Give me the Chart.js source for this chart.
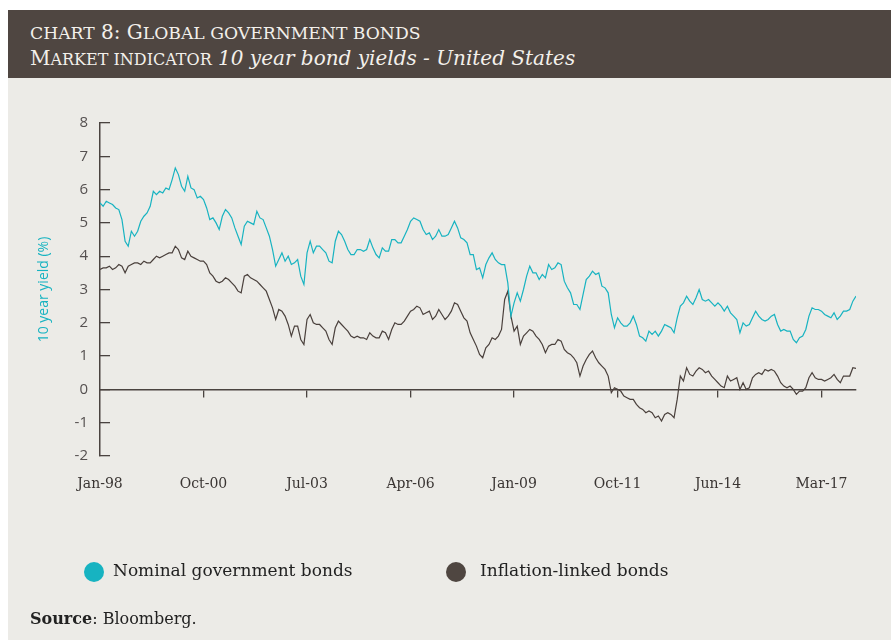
<!DOCTYPE html>
<html>
<head>
<meta charset="utf-8">
<script src="https://cdn.jsdelivr.net/npm/chart.js@4.4.0/dist/chart.umd.min.js"></script>
<style>
  html, body { margin: 0; padding: 0; background: #ffffff; }
  body { width: 891px; height: 640px; position: relative; overflow: hidden; }
  #panel { position: absolute; left: 8px; top: 10px; width: 883px; height: 630px; background: #ecebe7; }
  #header { position: absolute; left: 8px; top: 10px; width: 883px; height: 68px; background: #4f4641; color: #f3f0eb;
            font-family: "DejaVu Serif", serif; font-size: 20px; line-height: 26px; }
  #header .l1 { position: absolute; left: 22px; top: 9px; white-space: nowrap; }
  #header .l2 { position: absolute; left: 22px; top: 35px; white-space: nowrap; }
  #header .sc { text-transform: uppercase; font-size: 0.8em; }
  #header .l1 .sc { font-size: 0.86em; }
  #chart { position: absolute; left: 0; top: 0; }
  .legend { position: absolute; top: 560px; font-family: "DejaVu Serif", serif; font-size: 17px; color: #222; white-space: nowrap; }
  .legend span.dot { position: absolute; top: 2px; width: 20px; height: 20px; border-radius: 50%; }
  #source { position: absolute; left: 30px; top: 609px; font-family: "DejaVu Serif", serif; font-size: 16px; color: #222; }
</style>
</head>
<body>
<div id="panel"></div>
<div id="header">
  <div class="l1"><span class="sc">chart</span> 8: G<span class="sc">lobal government bonds</span></div>
  <div class="l2">M<span class="sc">arket indicator</span> <i>10 year bond yields - United States</i></div>
</div>
<canvas id="chart" width="891" height="640"></canvas>
<div class="legend" style="left:84px;"><span class="dot" style="left:0;background:#17b3c1;"></span><span style="padding-left:29px;">Nominal government bonds</span></div>
<div class="legend" style="left:446px;"><span class="dot" style="left:0;background:#4f4641;"></span><span style="padding-left:34px;">Inflation-linked bonds</span></div>
<div id="source"><b>Source</b>: Bloomberg.</div>
<script>
// mesi da gennaio 1998 (0 = Jan-98)
const tickMonths = [0, 33, 66, 99, 132, 165, 197, 230];
const tickLabels = ['Jan-98', 'Oct-00', 'Jul-03', 'Apr-06', 'Jan-09', 'Oct-11', 'Jun-14', 'Mar-17'];
const yTicks = [-2, -1, 0, 1, 2, 3, 4, 5, 6, 7, 8];

// rendimento nominale 10 anni, mensile
const nominal = [
  5.60, 5.50, 5.65, 5.60, 5.55, 5.45, 5.40, 5.10, 4.45, 4.30, 4.75, 4.60,
  4.75, 5.05, 5.20, 5.30, 5.50, 5.95, 5.85, 5.95, 5.90, 6.05, 6.00, 6.30,
  6.65, 6.45, 6.10, 5.95, 6.40, 6.05, 6.00, 5.75, 5.80, 5.70, 5.45, 5.10,
  5.15, 5.00, 4.80, 5.20, 5.40, 5.30, 5.15, 4.85, 4.60, 4.35, 4.90, 5.05,
  5.00, 4.95, 5.35, 5.15, 5.10, 4.85, 4.60, 4.20, 3.70, 3.90, 4.10, 3.85,
  4.00, 3.75, 3.80, 3.90, 3.40, 3.15, 4.10, 4.45, 4.10, 4.30, 4.30, 4.20,
  4.10, 3.85, 3.80, 4.45, 4.75, 4.65, 4.45, 4.20, 4.05, 4.05, 4.20, 4.20,
  4.15, 4.20, 4.50, 4.25, 4.05, 3.95, 4.25, 4.15, 4.15, 4.50, 4.50, 4.40,
  4.40, 4.60, 4.80, 5.05, 5.15, 5.10, 5.05, 4.80, 4.65, 4.70, 4.50, 4.60,
  4.80, 4.60, 4.60, 4.65, 4.85, 5.05, 4.85, 4.55, 4.50, 4.40, 4.05, 4.05,
  3.60, 3.65, 3.35, 3.75, 3.95, 4.10, 3.90, 3.80, 3.75, 3.75, 3.20, 2.20,
  2.60, 2.90, 2.65, 3.00, 3.40, 3.70, 3.50, 3.50, 3.30, 3.45, 3.35, 3.75,
  3.60, 3.65, 3.80, 3.75, 3.25, 3.05, 2.90, 2.55, 2.55, 2.40, 2.85, 3.30,
  3.40, 3.55, 3.45, 3.50, 3.10, 3.05, 2.90, 2.25, 1.85, 2.15, 2.00, 1.90,
  1.90, 2.00, 2.20, 1.95, 1.60, 1.55, 1.45, 1.75, 1.65, 1.75, 1.60, 1.75,
  1.95, 1.90, 1.85, 1.70, 2.15, 2.50, 2.60, 2.80, 2.65, 2.55, 2.75, 3.00,
  2.70, 2.65, 2.70, 2.60, 2.50, 2.60, 2.50, 2.35, 2.50, 2.30, 2.20, 2.10,
  1.70, 2.00, 1.90, 1.95, 2.15, 2.35, 2.20, 2.10, 2.05, 2.10, 2.20, 2.25,
  1.95, 1.75, 1.80, 1.75, 1.75, 1.50, 1.40, 1.55, 1.60, 1.80, 2.20, 2.45,
  2.40, 2.40, 2.35, 2.25, 2.20, 2.15, 2.30, 2.10, 2.20, 2.35, 2.35, 2.40,
  2.65, 2.80
];

// rendimento reale (indicizzati all'inflazione), mensile
const inflationLinked = [
  3.60, 3.65, 3.65, 3.70, 3.60, 3.65, 3.75, 3.70, 3.50, 3.70, 3.75, 3.80,
  3.80, 3.75, 3.85, 3.80, 3.80, 3.90, 4.00, 3.95, 4.00, 4.05, 4.10, 4.10,
  4.30, 4.20, 3.95, 3.90, 4.15, 4.00, 3.95, 3.90, 3.85, 3.85, 3.75, 3.50,
  3.40, 3.25, 3.20, 3.25, 3.35, 3.30, 3.20, 3.10, 2.95, 2.90, 3.40, 3.45,
  3.35, 3.30, 3.25, 3.15, 3.05, 2.95, 2.70, 2.45, 2.10, 2.40, 2.35, 2.20,
  1.95, 1.60, 1.90, 1.90, 1.50, 1.35, 2.10, 2.25, 2.00, 1.95, 1.95, 1.85,
  1.75, 1.50, 1.35, 1.85, 2.05, 1.95, 1.85, 1.75, 1.60, 1.55, 1.60, 1.55,
  1.55, 1.50, 1.70, 1.60, 1.55, 1.55, 1.75, 1.70, 1.50, 1.80, 2.00, 1.95,
  1.95, 2.05, 2.20, 2.35, 2.40, 2.50, 2.45, 2.25, 2.30, 2.35, 2.10, 2.20,
  2.40, 2.25, 2.10, 2.20, 2.35, 2.60, 2.55, 2.35, 2.15, 2.05, 1.70, 1.50,
  1.30, 1.05, 0.95, 1.25, 1.35, 1.55, 1.50, 1.60, 1.80, 2.70, 2.95, 2.20,
  1.75, 1.90, 1.35, 1.60, 1.70, 1.80, 1.75, 1.60, 1.50, 1.35, 1.10, 1.30,
  1.35, 1.35, 1.50, 1.45, 1.20, 1.10, 1.05, 0.95, 0.80, 0.40, 0.70, 0.90,
  1.05, 1.15, 0.95, 0.80, 0.70, 0.60, 0.40, -0.10, 0.05, 0.00, -0.05, -0.20,
  -0.25, -0.30, -0.30, -0.45, -0.55, -0.60, -0.70, -0.65, -0.70, -0.85, -0.80, -0.95,
  -0.75, -0.70, -0.75, -0.85, -0.30, 0.40, 0.25, 0.65, 0.45, 0.40, 0.55, 0.65,
  0.60, 0.50, 0.55, 0.40, 0.30, 0.20, 0.10, 0.05, 0.40, 0.25, 0.30, 0.35,
  0.00, 0.20, 0.00, 0.05, 0.35, 0.45, 0.50, 0.45, 0.60, 0.55, 0.60, 0.55,
  0.40, 0.20, 0.10, 0.05, 0.10, 0.00, -0.15, -0.05, -0.05, 0.05, 0.35, 0.50,
  0.35, 0.30, 0.30, 0.25, 0.30, 0.35, 0.45, 0.30, 0.20, 0.40, 0.40, 0.40,
  0.65, 0.63
];

const lastMonth = nominal.length - 1;
const axisColor = '#4a4340';

function toPoints(values) {
  return values.map((v, i) => ({ x: i, y: v }));
}

const ctx = document.getElementById('chart').getContext('2d');
new Chart(ctx, {
  type: 'line',
  data: {
    datasets: [{
      label: 'Nominal government bonds',
      data: toPoints(nominal),
      borderColor: '#17b3c1',
      borderWidth: 1.2,
      pointRadius: 0,
      tension: 0
    }, {
      label: 'Inflation-linked bonds',
      data: toPoints(inflationLinked),
      borderColor: '#4a403c',
      borderWidth: 1.2,
      pointRadius: 0,
      tension: 0
    }]
  },
  options: {
    responsive: false,
    animation: false,
    devicePixelRatio: 1,
    layout: { padding: { left: 36, right: 35, top: 123, bottom: 144 } },
    plugins: {
      legend: { display: false },
      tooltip: { enabled: false }
    },
    scales: {
      x: {
        type: 'linear',
        min: 0,
        max: lastMonth,
        afterBuildTicks: function(scale) {
          scale.ticks = tickMonths.map(v => ({ value: v }));
        },
        afterFit: function(scale) { scale.height = 40; },
        grid: { display: false, drawTicks: false },
        border: { display: false },
        ticks: {
          autoSkip: false,
          maxRotation: 0,
          padding: 20,
          color: '#3a3533',
          font: { family: 'DejaVu Serif', size: 14 },
          callback: function(value, index) { return tickLabels[index]; }
        }
      },
      xZero: {
        type: 'linear',
        axis: 'x',
        position: { y: 0 },
        min: 0,
        max: lastMonth,
        afterBuildTicks: function(scale) {
          scale.ticks = tickMonths.slice(1).map(v => ({ value: v }));
        },
        grid: { drawOnChartArea: false, drawTicks: true, tickLength: 7, color: axisColor, lineWidth: 1.3 },
        border: { display: true, color: axisColor, width: 1.5 },
        ticks: { display: false }
      },
      y: {
        min: -2,
        max: 8,
        afterBuildTicks: function(scale) {
          scale.ticks = yTicks.map(v => ({ value: v }));
        },
        afterFit: function(scale) { scale.width = 64; },
        grid: { drawOnChartArea: false, drawTicks: true, tickLength: -10, color: axisColor, lineWidth: 1.3 },
        border: { display: true, color: axisColor, width: 1.5 },
        ticks: {
          padding: 22,
          color: '#555050',
          font: { family: 'Open Sans', size: 15 }
        },
        title: {
          display: true,
          text: '10 year yield (%)',
          color: '#17b3c1',
          padding: 0,
          font: { family: 'Open Sans', size: 14 }
        }
      }
    }
  }
});
</script>
</body>
</html>
